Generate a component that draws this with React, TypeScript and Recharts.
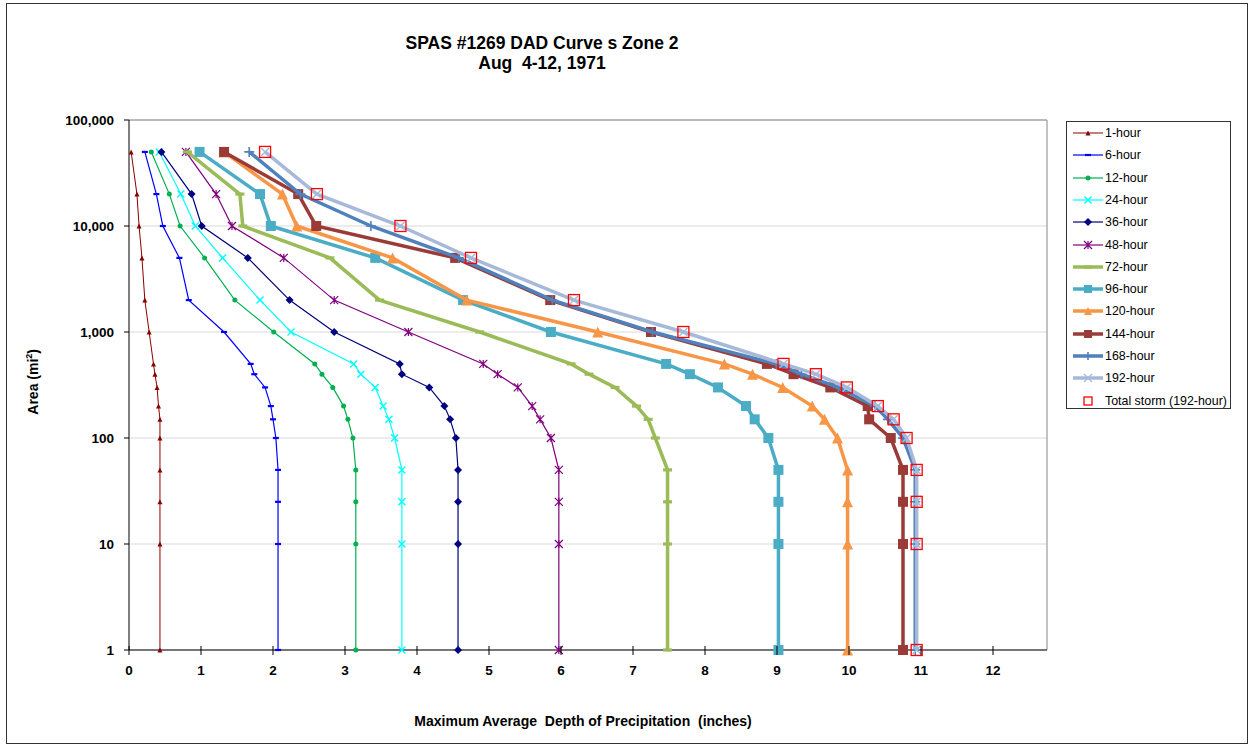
import { CartesianGrid, ReferenceLine, Scatter, ScatterChart, XAxis, YAxis } from "recharts";

// area sizes (mi²) shared by every duration curve
const AREAS = [50000, 20000, 10000, 5000, 2000, 1000, 500, 400, 300, 200, 150, 100, 50, 25, 10, 1];

// maximum average depth (inches), one value per area above
const H1 = [0.03, 0.11, 0.14, 0.18, 0.22, 0.28, 0.34, 0.36, 0.39, 0.41, 0.43, 0.43, 0.43, 0.43, 0.43, 0.43];
const H6 = [0.22, 0.38, 0.47, 0.70, 0.83, 1.32, 1.69, 1.74, 1.89, 1.97, 2.00, 2.04, 2.07, 2.07, 2.07, 2.07];
const H12 = [0.31, 0.56, 0.71, 1.05, 1.47, 2.01, 2.58, 2.68, 2.83, 2.98, 3.04, 3.11, 3.15, 3.15, 3.15, 3.15];
const H24 = [0.42, 0.72, 0.92, 1.30, 1.82, 2.25, 3.12, 3.22, 3.42, 3.53, 3.61, 3.69, 3.79, 3.79, 3.79, 3.79];
const H36 = [0.45, 0.87, 1.01, 1.65, 2.23, 2.85, 3.76, 3.79, 4.17, 4.38, 4.46, 4.54, 4.57, 4.57, 4.57, 4.57];
const H48 = [0.79, 1.21, 1.43, 2.15, 2.85, 3.88, 4.92, 5.12, 5.40, 5.60, 5.71, 5.86, 5.97, 5.97, 5.97, 5.97];
const H72 = [0.81, 1.54, 1.58, 2.79, 3.48, 4.87, 6.14, 6.39, 6.75, 7.05, 7.21, 7.31, 7.48, 7.48, 7.48, 7.48];
const H96 = [0.98, 1.82, 1.97, 3.42, 4.64, 5.86, 7.46, 7.79, 8.18, 8.57, 8.69, 8.88, 9.02, 9.02, 9.02, 9.02];
const H120 = [1.32, 2.13, 2.33, 3.66, 4.69, 6.51, 8.27, 8.66, 9.08, 9.49, 9.66, 9.84, 9.98, 9.98, 9.98, 9.98];
const H144 = [1.32, 2.35, 2.60, 4.53, 5.85, 7.25, 8.86, 9.23, 9.74, 10.26, 10.28, 10.58, 10.75, 10.75, 10.75, 10.75];
const H168 = [1.67, 2.38, 3.36, 4.58, 5.88, 7.27, 8.99, 9.34, 9.85, 10.36, 10.54, 10.75, 10.92, 10.92, 10.92, 10.92];
const H192 = [1.89, 2.61, 3.77, 4.75, 6.18, 7.70, 9.09, 9.54, 9.97, 10.40, 10.62, 10.80, 10.94, 10.94, 10.94, 10.94];
const TOTAL_STORM = [1.89, 2.61, 3.77, 4.75, 6.18, 7.70, 9.09, 9.54, 9.97, 10.40, 10.62, 10.80, 10.94, 10.94, 10.94, 10.94];

const X_TICKS = [0, 1, 2, 3, 4, 5, 6, 7, 8, 9, 10, 11, 12];
const Y_TICKS = [1, 10, 100, 1000, 10000, 100000];

type MarkerKind = "tri" | "dash" | "dot" | "x" | "diamond" | "star" | "square" | "plus" | "open";

const SERIES: { name: string; depths: number[]; color: string; width: number; marker: MarkerKind; size: number }[] = [
  { name: "1-hour", depths: H1, color: "#8B0000", width: 1, marker: "tri", size: 5 },
  { name: "6-hour", depths: H6, color: "#0000FF", width: 1.2, marker: "dash", size: 6 },
  { name: "12-hour", depths: H12, color: "#00B050", width: 1.2, marker: "dot", size: 5 },
  { name: "24-hour", depths: H24, color: "#00FFFF", width: 1.2, marker: "x", size: 7 },
  { name: "36-hour", depths: H36, color: "#000080", width: 1.2, marker: "diamond", size: 8 },
  { name: "48-hour", depths: H48, color: "#800080", width: 1.2, marker: "star", size: 8 },
  { name: "72-hour", depths: H72, color: "#9BBB59", width: 3.5, marker: "dash", size: 9 },
  { name: "96-hour", depths: H96, color: "#4BACC6", width: 3.5, marker: "square", size: 10 },
  { name: "120-hour", depths: H120, color: "#F79646", width: 3.5, marker: "tri", size: 11 },
  { name: "144-hour", depths: H144, color: "#9A3B38", width: 3.5, marker: "square", size: 10 },
  { name: "168-hour", depths: H168, color: "#4F81BD", width: 3.5, marker: "plus", size: 10 },
  { name: "192-hour", depths: H192, color: "#A7B9D9", width: 3.5, marker: "x", size: 8 },
  { name: "Total storm (192-hour)", depths: TOTAL_STORM, color: "#FF0000", width: 0, marker: "open", size: 11 },
];

const FONT = "'Liberation Sans', Arial, sans-serif";

function Marker({ kind, cx, cy, size, color }: { kind: MarkerKind; cx: number; cy: number; size: number; color: string }) {
  const h = size / 2;
  switch (kind) {
    case "tri":
      return <polygon points={`${cx},${cy - h} ${cx + h},${cy + h} ${cx - h},${cy + h}`} fill={color} />;
    case "dash":
      return <rect x={cx - h} y={cy - (size > 7 ? 1.6 : 1.1)} width={size} height={size > 7 ? 3.2 : 2.2} fill={color} />;
    case "dot":
      return <circle cx={cx} cy={cy} r={h} fill={color} />;
    case "x":
      return (
        <path d={`M${cx - h},${cy - h}L${cx + h},${cy + h}M${cx - h},${cy + h}L${cx + h},${cy - h}`} stroke={color} strokeWidth={1.4} fill="none" />
      );
    case "diamond":
      return <polygon points={`${cx},${cy - h} ${cx + h},${cy} ${cx},${cy + h} ${cx - h},${cy}`} fill={color} />;
    case "star":
      return (
        <path
          d={`M${cx - h},${cy - h}L${cx + h},${cy + h}M${cx - h},${cy + h}L${cx + h},${cy - h}M${cx},${cy - h}L${cx},${cy + h}`}
          stroke={color}
          strokeWidth={1.2}
          fill="none"
        />
      );
    case "square":
      return <rect x={cx - h} y={cy - h} width={size} height={size} fill={color} />;
    case "plus":
      return <path d={`M${cx - h},${cy}L${cx + h},${cy}M${cx},${cy - h}L${cx},${cy + h}`} stroke={color} strokeWidth={1.6} fill="none" />;
    case "open":
      return <rect x={cx - h} y={cy - h} width={size} height={size} fill="none" stroke={color} strokeWidth={1.3} />;
  }
  return null;
}

const XTick = (props: any) => {
  const { x, y, payload } = props;
  return (
    <g>
      <line x1={x} x2={x} y1={y - 4} y2={y + 5} stroke="#000" strokeWidth={1} />
      <text x={x} y={y + 25} textAnchor="middle" fontFamily={FONT} fontWeight="bold" fontSize={13.5} fill="#000">
        {payload.value}
      </text>
    </g>
  );
};

export default function App() {
  return (
    <div style={{ position: "absolute", left: 0, top: 0, width: 1251, height: 746, background: "#fff", fontFamily: FONT }}>
      <div
        style={{
          position: "absolute",
          left: 6,
          top: 3,
          width: 1240,
          height: 739,
          border: "1px solid #333",
        }}
      />
      <div
        style={{
          position: "absolute",
          left: 342,
          top: 33,
          width: 400,
          textAlign: "center",
          fontWeight: "bold",
          fontSize: 17.5,
          lineHeight: "20px",
          color: "#000",
        }}
      >
        SPAS #1269 DAD Curve s Zone 2
        <br />
        Aug&nbsp; 4-12, 1971
      </div>

      <ScatterChart
        width={1251}
        height={746}
        margin={{ top: 120, right: 204, bottom: 66, left: 69 }}
        style={{ position: "absolute", left: 0, top: 0 }}
      >
        <CartesianGrid vertical={false} stroke="#D9D9D9" strokeWidth={1} />
        <XAxis
          type="number"
          dataKey="x"
          domain={[0, 12.75]}
          ticks={X_TICKS}
          height={30}
          stroke="#000"
          tickLine={false}
          tickSize={0}
          tickMargin={0}
          tick={<XTick />}
        />
        <YAxis
          type="number"
          dataKey="y"
          scale="log"
          domain={[1, 100000]}
          ticks={Y_TICKS}
          width={60}
          stroke="#000"
          tickSize={5}
          tickMargin={10}
          tickFormatter={(v: number) => v.toLocaleString("en-US")}
          tick={{ fontFamily: FONT, fontWeight: "bold", fontSize: 13.5, fill: "#000" }}
        />
        <ReferenceLine y={100000} stroke="#888" strokeWidth={1} />
        <ReferenceLine x={12.75} stroke="#888" strokeWidth={1} />
        {SERIES.map((s) => (
          <Scatter
            key={s.name}
            name={s.name}
            data={AREAS.map((a, i) => ({ x: s.depths[i], y: a }))}
            fill={s.color}
            line={s.width > 0 ? { stroke: s.color, strokeWidth: s.width } : false}
            lineType="joint"
            shape={(p: any) => <Marker kind={s.marker} cx={p.cx} cy={p.cy} size={s.size} color={s.color} />}
            isAnimationActive={false}
          />
        ))}
      </ScatterChart>

      <div
        style={{
          position: "absolute",
          left: 11,
          top: 372,
          width: 40,
          textAlign: "center",
          transform: "rotate(-90deg)",
          transformOrigin: "center center",
          whiteSpace: "nowrap",
          fontWeight: "bold",
          fontSize: 14,
          lineHeight: "16px",
          display: "flex",
          justifyContent: "center",
        }}
      >
        <span>
          Area (mi<sup style={{ fontSize: 9 }}>2</sup>)
        </span>
      </div>

      <div
        style={{
          position: "absolute",
          left: 283,
          top: 712,
          width: 600,
          textAlign: "center",
          fontWeight: "bold",
          fontSize: 14,
          whiteSpace: "pre",
          lineHeight: "18px",
        }}
      >
        {"Maximum Average  Depth of Precipitation  (inches)"}
      </div>

      <div
        style={{
          position: "absolute",
          left: 1066,
          top: 121,
          width: 163,
          height: 286,
          border: "1px solid #333",
          background: "#fff",
        }}
      >
        {SERIES.map((s, i) => (
          <div
            key={s.name}
            style={{ position: "absolute", left: 5, top: 2 + i * 22.3, height: 18, display: "flex", alignItems: "center" }}
          >
            <svg width={32} height={18} style={{ display: "block" }}>
              {s.width > 0 && <line x1={1} x2={31} y1={9} y2={9} stroke={s.color} strokeWidth={s.width} />}
              <Marker kind={s.marker} cx={16} cy={9} size={Math.min(s.size, 8)} color={s.color} />
            </svg>
            <span style={{ fontSize: 12.4, marginLeft: 1, whiteSpace: "nowrap", color: "#000" }}>{s.name}</span>
          </div>
        ))}
      </div>
    </div>
  );
}
